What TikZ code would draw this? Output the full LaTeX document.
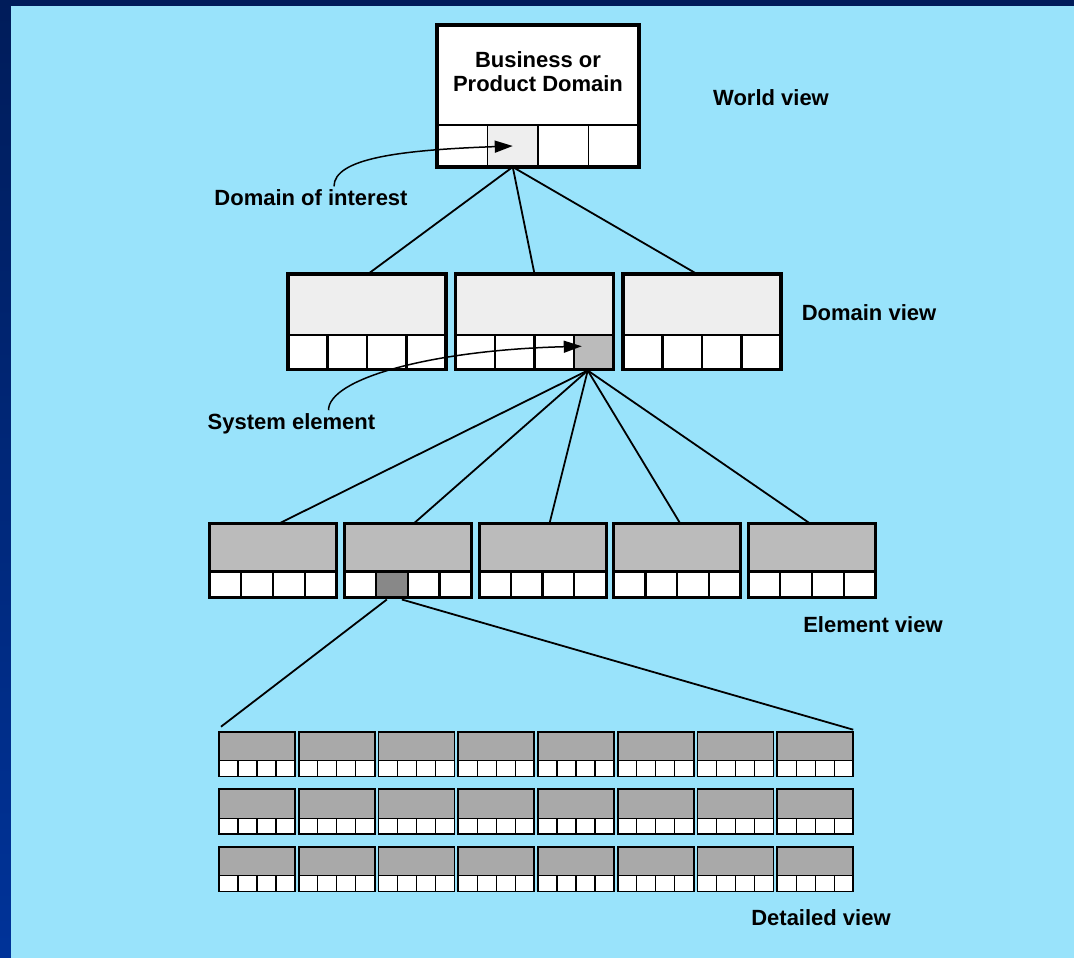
\documentclass[tikz,border=0pt]{standalone}
\usepackage{fontspec}
\setmainfont{Liberation Sans}
\usetikzlibrary{arrows.meta,calc}

\definecolor{SkyBack}{RGB}{153,227,251}
\definecolor{EdgeNavy}{RGB}{0,28,90}
\definecolor{EdgeBlue}{RGB}{0,51,153}
\definecolor{DomainGray}{RGB}{238,238,238}
\definecolor{ElemGray}{RGB}{187,187,187}
\definecolor{DetailGray}{RGB}{169,169,169}
\definecolor{HotGray}{RGB}{136,136,136}

\tikzset{
  boxhead/.style={draw, rectangle, inner sep=0, outer sep=0, anchor=north west},
  boxcell/.style={draw, rectangle, inner sep=0, outer sep=0, anchor=north west},
  link/.style={line width=1.8pt},
  pointer/.style={line width=1.5pt, -{Triangle[length=18pt,width=12pt]}},
  label/.style={font=\bfseries\fontsize{22}{24}\selectfont, align=center}
}

% #1 name, #2 x, #3 y (top), #4 width, #5 height, #6 cell height
\newcommand{\ViewBox}[6]{%
  \node[boxhead, fill=\HeadFill, line width=\CellLine,
        minimum width=#4, minimum height=#5-#6] (#1) at (#2,#3) {};
  \foreach \i in {1,...,4}{%
    \ifnum\i=\HotCell \def\CellFill{\HotFill}\else\def\CellFill{white}\fi
    \node[boxcell, fill=\CellFill, line width=\CellLine,
          minimum width=#4/4, minimum height=#6] (#1-c\i) at (#2+#4/4*\i-#4/4,#3+#5-#6) {};
  }
  \draw[line width=\FrameLine] (#2,#3) rectangle ++(#4,#5);
}

\begin{document}
\begin{tikzpicture}[x=1pt,y=-1pt]
  \useasboundingbox (0,0) rectangle (1074,958);

  % --- Fondo ---
  \shade[top color=EdgeNavy, middle color=EdgeBlue, bottom color=EdgeBlue] (0,0) rectangle (1074,958);
  \fill[SkyBack] (11,6) rectangle (1074,958);

  % --- World view ---
  \def\HeadFill{white}\def\HotCell{2}\def\HotFill{DomainGray}
  \def\FrameLine{3.5pt}\def\CellLine{1.5pt}
  \ViewBox{world}{437}{25}{202}{142}{42}
  \node[label, yshift=3pt] (title) at (world.center) {Business or\\Product Domain};

  % --- Domain view ---
  \def\HeadFill{DomainGray}\def\HotFill{ElemGray}
  \def\FrameLine{3.5pt}\def\CellLine{2.5pt}
  \foreach \n/\x/\k in {1/288/0, 2/455.5/4, 3/623/0}{
    \def\HotCell{\k}
    \ViewBox{dom\n}{\x}{274}{158}{95.5}{34.5}
  }

  % --- Element view ---
  \def\HeadFill{ElemGray}\def\HotFill{HotGray}
  \def\FrameLine{3pt}\def\CellLine{2.2pt}
  \foreach \n/\k in {1/0, 2/2, 3/0, 4/0, 5/0}{
    \def\HotCell{\k}
    \ViewBox{elem\n}{209.5+134.75*\n-134.75}{523.5}{127}{74}{26}
  }

  % --- Detailed view ---
  \def\HeadFill{DetailGray}\def\HotCell{0}
  \def\FrameLine{1.6pt}\def\CellLine{1.2pt}
  \foreach \r in {1,2,3}{
    \foreach \c in {1,...,8}{
      \ViewBox{det-\r-\c}{219+79.75*\c-79.75}{731.7+57.5*\r-57.5}{76}{44.6}{15.6}
    }
  }

  % --- Lineas ---
  \foreach \n/\dx in {1/1, 2/0, 3/-5}
    \draw[link] (world-c2.south) -- ([xshift=\dx pt]dom\n.north);
  \coordinate (sys) at ($(dom2-c4.south)+(-6,1)$);
  \foreach \n/\dx in {1/6, 2/6, 3/7, 4/3, 5/-2}
    \draw[link] (sys) -- ([xshift=\dx pt]elem\n.north);
  \coordinate (pickL) at ($(elem2-c2.south)+(-5,2)$);
  \coordinate (pickR) at ($(elem2-c2.south)+(10,2)$);
  \draw[link] (pickL) -- ([shift={(2pt,5pt)}]det-1-1.north west);
  \draw[link] (pickR) -- ([yshift=2pt]det-1-8.north east);

  % --- Textos ---
  \node[label] (worldlbl) at (771,98) {World view};
  \node[label] (domlbl) at (869,313) {Domain view};
  \node[label] (elemlbl) at (873,625) {Element view};
  \node[label] (detlbl) at (821,918) {Detailed view};
  \node[label] (doi) at (311,198) {Domain of interest};
  \node[label] (sel) at (291.5,424) {System element};

  % --- Flechas ---
  \draw[pointer] ([xshift=23pt]doi.north) .. controls +(0,-28) and +(-113,4) .. (world-c2.center);
  \draw[pointer] ([xshift=37pt]sel.north) .. controls +(0,-31) and +(-153,4) .. ($(dom2-c4.center)+(-12,-6)$);
\end{tikzpicture}
\end{document}
